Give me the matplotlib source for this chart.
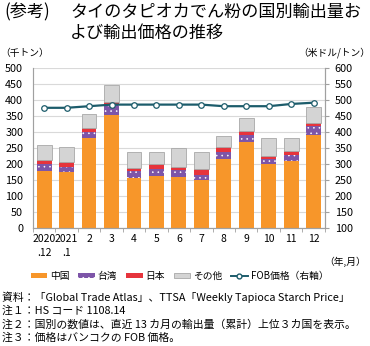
import numpy as np
import matplotlib
matplotlib.use("Agg")
import matplotlib.pyplot as plt
from matplotlib.lines import Line2D
from matplotlib.patches import Patch

plt.rcParams['font.family'] = ['Noto Sans CJK JP', 'DejaVu Sans']
plt.rcParams['hatch.color'] = 'white'
plt.rcParams['hatch.linewidth'] = 0.4

# data
months = ["2020\n.12", "2021\n.1", "2", "3", "4", "5", "6", "7", "8", "9", "10", "11", "12"]
china = [179, 176, 281, 354, 155, 164, 161, 149, 216, 269, 200, 211, 291]
taiwan = [22, 16, 19, 30, 22, 21, 20, 18, 22, 22, 15, 18, 28]
japan = [12, 15, 14, 11, 12, 14, 11, 19, 15, 14, 11, 11, 10]
other = [47, 47, 44, 51, 49, 39, 59, 52, 35, 39, 56, 40, 50]
fob = [476, 476, 481, 486, 486, 486, 486, 486, 481, 481, 481, 488, 492]

c_china = '#F7962A'
c_taiwan = '#7D55A8'
c_japan = '#E6343C'
c_other = '#D4D4D4'
c_line = '#1C5C6B'

fig = plt.figure(figsize=(3.70, 3.46), dpi=100)
ax = fig.add_axes([0.089, 0.341, 0.789, 0.462])
ax2 = ax.twinx()

x = np.arange(len(months))
w = 0.66
b1 = np.array(china)
b2 = b1 + np.array(taiwan)
b3 = b2 + np.array(japan)
ax.bar(x, china, w, color=c_china, zorder=2)
ax.bar(x, taiwan, w, bottom=b1, color=c_taiwan, hatch='...', edgecolor='white', linewidth=0, zorder=2)
ax.bar(x, japan, w, bottom=b2, color=c_japan, zorder=2)
ax.bar(x, other, w, bottom=b3, color=c_other, edgecolor='#A8A8A8', linewidth=0.6, zorder=2)

ax2.plot(x, fob, color=c_line, lw=1.6, marker='o', ms=4, mfc='white', mec=c_line, mew=0.9, zorder=3)

ax.set_xlim(-0.5, len(months) - 0.5)
ax.set_ylim(0, 500)
ax.set_yticks(np.arange(0, 501, 50))
ax2.set_ylim(100, 600)
ax2.set_yticks(np.arange(100, 601, 50))
ax.yaxis.grid(True, color='#D9D9D9', lw=0.8, zorder=0)
ax.set_axisbelow(True)

ax.set_xticks(x)
ax.set_xticklabels(months, fontsize=7.5, linespacing=1.5, va='top')
ax.set_xticks(np.arange(-0.5, len(months), 1), minor=True)
ax.tick_params(axis='x', which='major', length=0, pad=4)
ax.tick_params(axis='x', which='minor', length=3, color='#A0A0A0')
ax.tick_params(axis='y', length=0, labelsize=7.8, pad=7)
ax2.tick_params(axis='y', length=3, color='#A0A0A0', labelsize=7.8, pad=4)

for a in (ax, ax2):
    for s in a.spines.values():
        s.set_color('#A0A0A0')
        s.set_linewidth(0.8)
    a.spines['top'].set_visible(False)
ax.spines['left'].set_color('#D0D0D0')

# titles and unit labels
fig.text(0.012, 0.965, "(参考)", fontsize=12.3, va='center')
fig.text(0.19, 0.965, "タイのタピオカでん粉の国別輸出量お", fontsize=12.3, va='center')
fig.text(0.19, 0.905, "よび輸出価格の推移", fontsize=12.3, va='center')
fig.text(0.0, 0.848, "（千トン）", fontsize=7, va='center')
fig.text(1.0, 0.848, "（米ドル/トン）", fontsize=7, va='center', ha='right')
fig.text(0.99, 0.243, "（年,月）", fontsize=7, va='center', ha='right')

handles = [Patch(facecolor=c_china), Patch(facecolor=c_taiwan, hatch='...', edgecolor='white', linewidth=0),
           Patch(facecolor=c_japan), Patch(facecolor=c_other, edgecolor='#A8A8A8', linewidth=0.6),
           Line2D([], [], color=c_line, lw=1.4, marker='o', ms=3.5, mfc='white', mec=c_line)]
labels = ["中国", "台湾", "日本", "その他", "FOB価格（右軸）"]
fig.legend(handles, labels, loc='center', bbox_to_anchor=(0.485, 0.203), ncol=5, frameon=False,
           fontsize=7, handlelength=1.7, handleheight=0.5, handletextpad=0.3, columnspacing=0.9)

notes = ["資料：「Global Trade Atlas」、TTSA「Weekly Tapioca Starch Price」",
         "注１：HS コード 1108.14",
         "注２：国別の数値は、直近 13 カ月の輸出量（累計）上位３カ国を表示。",
         "注３：価格はバンコクの FOB 価格。"]
for i, t in enumerate(notes):
    fig.text(0.005, 0.141 - i * 0.039, t, fontsize=7.8, va='center')

fig.savefig("out.png", dpi=100)
